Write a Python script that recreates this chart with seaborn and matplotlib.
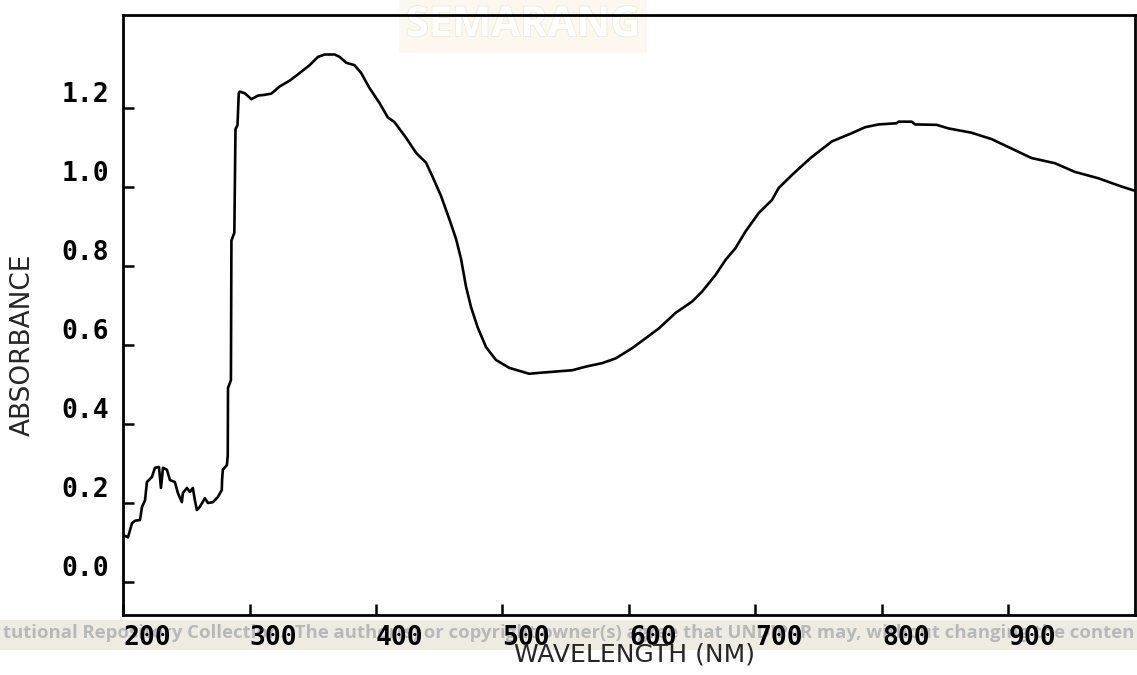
import pandas as pd
import numpy as np
import seaborn as sns
import matplotlib.pyplot as plt
import matplotlib.patheffects as pe

# spectrum
wavelength_nm = [200.8, 203.9, 207.1, 209.5, 213.4, 215.0, 217.4, 218.9, 222.9, 225.2,
                 228.4, 230.0, 231.6, 234.7, 237.1, 241.0, 243.4, 246.5, 247.3, 250.5,
                 252.9, 255.2, 256.8, 258.4, 260.7, 264.7, 267.1, 271.0, 275.0, 278.1,
                 278.3, 278.9, 282.1, 282.8, 283.0, 285.3, 285.7, 288.0, 288.9, 290.5,
                 291.5, 292.3, 296.2, 301.5, 306.7, 312.0, 317.3, 323.8, 331.8, 339.6,
                 347.5, 354.1, 359.4, 367.3, 371.2, 376.5, 383.0, 388.3, 394.9, 402.8,
                 409.3, 414.6, 423.8, 431.7, 439.6, 444.8, 451.4, 458.0, 463.3, 467.2,
                 471.2, 475.1, 480.3, 486.9, 494.8, 505.3, 521.1, 531.6, 543.8, 555.3,
                 565.8, 578.9, 589.5, 602.6, 613.2, 623.7, 636.8, 650.0, 657.8, 668.4,
                 676.3, 684.2, 692.1, 702.6, 713.1, 718.3, 728.8, 743.5, 760.4, 776.2,
                 786.7, 797.2, 811.7, 813.0, 823.5, 826.2, 843.2, 852.5, 870.8, 886.6,
                 899.8, 918.2, 936.6, 952.4, 970.8, 989.2, 1000.0]
absorbance = [0.118, 0.113, 0.149, 0.155, 0.157, 0.190, 0.207, 0.253, 0.266, 0.289,
              0.291, 0.238, 0.289, 0.284, 0.258, 0.253, 0.225, 0.202, 0.225, 0.238,
              0.228, 0.238, 0.207, 0.182, 0.190, 0.212, 0.200, 0.202, 0.215, 0.233,
              0.258, 0.284, 0.296, 0.320, 0.491, 0.511, 0.864, 0.884, 1.146, 1.156,
              1.237, 1.241, 1.237, 1.222, 1.231, 1.233, 1.236, 1.254, 1.269, 1.288,
              1.308, 1.329, 1.335, 1.335, 1.329, 1.314, 1.308, 1.288, 1.250, 1.212,
              1.176, 1.164, 1.124, 1.086, 1.061, 1.025, 0.977, 0.918, 0.868, 0.818,
              0.747, 0.696, 0.645, 0.595, 0.562, 0.542, 0.527, 0.530, 0.533, 0.536,
              0.545, 0.554, 0.566, 0.592, 0.617, 0.642, 0.681, 0.710, 0.735, 0.777,
              0.815, 0.845, 0.887, 0.934, 0.967, 0.997, 1.030, 1.073, 1.115, 1.136,
              1.151, 1.158, 1.161, 1.165, 1.165, 1.158, 1.157, 1.148, 1.137, 1.121,
              1.101, 1.073, 1.060, 1.038, 1.022, 1.001, 0.990]

x_ticks = [200, 300, 400, 500, 600, 700, 800, 900]
y_ticks = [0.0, 0.2, 0.4, 0.6, 0.8, 1.0, 1.2]

df = pd.DataFrame({'wavelength': wavelength_nm, 'absorbance': absorbance})

sns.set_style("white")
plt.rcParams['font.family'] = ['DejaVu Sans Mono', 'DejaVu Sans']

fig = plt.figure(figsize=(11.37, 6.75), dpi=100)
ax = fig.add_axes([0.1082, 0.0889, 0.8900, 0.8889])
ax.set_facecolor('none')

sns.lineplot(data=df, x='wavelength', y='absorbance', ax=ax,
             color='black', linewidth=1.9, sort=False, estimator=None)

ax.set_xlim(200, 1000)
ax.set_ylim(-0.0835, 1.435)
ax.set_xticks(x_ticks)
ax.set_yticks(y_ticks)
ax.set_xticklabels([str(t) for t in x_ticks])
ax.set_yticklabels(['%.1f' % t for t in y_ticks])
ax.tick_params(direction='in', length=8, width=1.8, colors='black',
               labelsize=19, left=True, bottom=True, top=False, right=False)
ax.tick_params(axis='y', pad=10)
ax.tick_params(axis='x', pad=7)
plt.setp(ax.get_yticklabels(), va='bottom', fontweight='bold')
plt.setp(ax.get_xticklabels(), ha='left', fontweight='bold')

for sp in ax.spines.values():
    sp.set_visible(True)
    sp.set_color('black')
    sp.set_linewidth(2.0)

ax.set_xlabel('WAVELENGTH (NM)', fontsize=18, family=['DejaVu Sans'])
ax.set_ylabel('ABSORBANCE', fontsize=19, family=['DejaVu Sans'])
ax.xaxis.set_label_coords(0.505, -0.066)
ax.yaxis.set_label_coords(-0.099, 0.45)
ax.xaxis.label.set_va('center')
ax.yaxis.label.set_va('center')

# repository watermark band at the bottom of the scan
fig.patches.append(plt.Rectangle((0, 0.037), 1, 0.045, transform=fig.transFigure,
                                 facecolor='#eeebe3', edgecolor='none', zorder=-2))
fig.text(0.5, 0.062, 'tutional Repository Collection.  The author(s) or copyright owner(s) '
         'agree that UNDIP-IR may, without changing the conten',
         ha='center', va='center', fontsize=13.3, color='#b8b8b8',
         family=['Open Sans', 'DejaVu Sans'], fontweight='bold', zorder=-1)
# faint university crest watermark at the top
fig.text(0.46, 0.962, 'SEMARANG', ha='center', va='center', fontsize=30,
         color='white', family=['Open Sans', 'DejaVu Sans'], fontweight='bold',
         path_effects=[pe.withStroke(linewidth=1.2, foreground='#f1ead6')],
         bbox=dict(facecolor='#fcf8ef', edgecolor='none', pad=5), zorder=-1)

fig.savefig('out.png', dpi=100)
